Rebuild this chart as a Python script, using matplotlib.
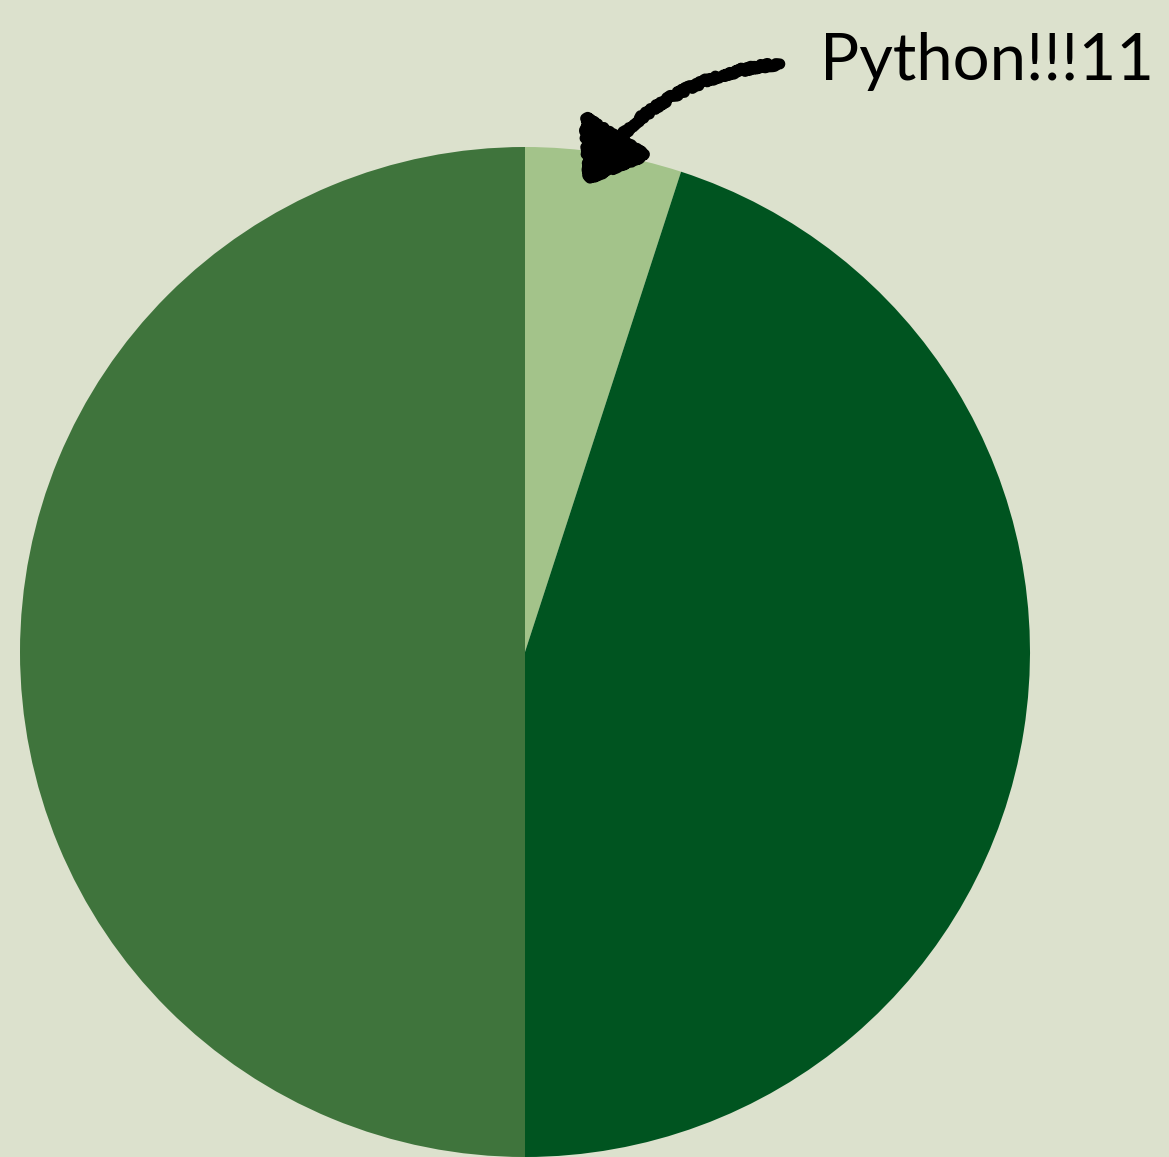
import matplotlib
matplotlib.use('Agg')
import matplotlib.pyplot as plt

# Pie values (fractions), clockwise from the top
labels = ['Python', 'Other A', 'Other B']
shares = [5, 45, 50]
colors = ['#A3C38A', '#005420', '#3F743C']

bg = '#DCE1CD'

fig = plt.figure(figsize=(11.69, 11.57), dpi=100, facecolor=bg)
ax = fig.add_axes([20 / 1169, 0, 1010 / 1169, 1010 / 1157])
ax.set_facecolor(bg)

ax.pie(shares, colors=colors, startangle=90, counterclock=False,
       radius=1, wedgeprops=dict(linewidth=0))
ax.set_xlim(-1, 1)
ax.set_ylim(-1, 1)
ax.axis('off')

# Hand-drawn looking arrow pointing at the small slice
ann = ax.annotate('', xy=(0.115, 0.92), xytext=(0.51, 1.165),
                  xycoords='data', textcoords='data', annotation_clip=False,
                  arrowprops=dict(arrowstyle='-|>,head_length=0.9,head_width=0.65',
                                  connectionstyle='arc3,rad=0.25',
                                  lw=8, color='black', mutation_scale=38))
ann.arrow_patch.set_sketch_params(scale=2, length=4, randomness=25)

ax.text(0.585, 1.17, 'Python!!!11', fontsize=47, color='black',
        ha='left', va='center', clip_on=False, family='Lato')

fig.savefig('out.png', dpi=100, facecolor=bg)
